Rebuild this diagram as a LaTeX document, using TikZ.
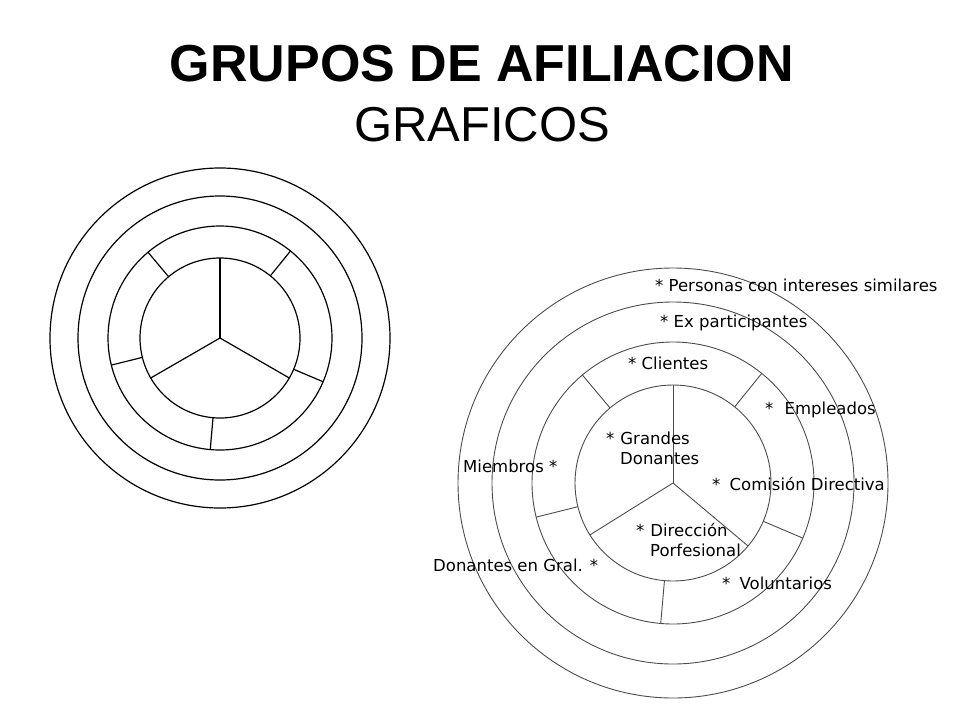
\documentclass[tikz,border=0pt]{standalone}
\usepackage{fontspec}
\setmainfont{Liberation Sans}
\newfontfamily\lblfont{DejaVu Sans}
\usetikzlibrary{positioning,calc}
\tikzset{ring/.style={draw,line width=1.2pt},
    thinring/.style={draw=black!70,line width=0.9pt},
    lbl/.style={font=\lblfont\fontsize{16.5}{20}\selectfont,inner sep=0pt,anchor=west,align=left}}
\begin{document}
\begin{tikzpicture}[x=1pt,y=-1pt]
\useasboundingbox (0,0) rectangle (960,720);
% title
\node[font=\bfseries\fontsize{52}{56}\selectfont] (title) at (482,64) {GRUPOS DE AFILIACION};
\node[font=\fontsize{49}{53}\selectfont] (sub) at (482,125) {GRAFICOS};
% left circles
\coordinate (lc) at (220,338);
\foreach \r in {170,142,112,80} \draw[ring] (lc) circle[radius=\r];
\foreach \a in {90,210,330} \draw[ring] (lc) -- ++(-\a:80);
\foreach \a in {130,51,194,337,265} \draw[ring] ($(lc)+(-\a:80)$) -- ($(lc)+(-\a:112)$);
% right circles
\coordinate (rc) at (673,483);
\foreach \r in {215,181,141,98} \draw[thinring] (rc) circle[radius=\r];
\foreach \a in {90,212,320} \draw[thinring] (rc) -- ++(-\a:98);
\foreach \a in {130,51,194,337,265} \draw[thinring] ($(rc)+(-\a:98)$) -- ($(rc)+(-\a:141)$);
% labels
\node[lbl] (pers) at (655,285) {* Personas con intereses similares};
\node[lbl] (expa) at (660,323) {* Ex participantes};
\node[lbl] (clie) at (628,363) {* Clientes};
\node[lbl] (empl) at (765,410) {*\hspace{6pt} Empleados};
\node[lbl] (gran) at (606,448) {*\hspace{6pt}Grandes\\\hspace{14pt}Donantes};
\node[lbl] (miem) at (463,466) {Miembros *};
\node[lbl] (comi) at (712,484) {*\hspace{4pt} Comisión Directiva};
\node[lbl] (dire) at (636,540) {*\hspace{6pt}Dirección\\\hspace{14pt}Porfesional};
\node[lbl] (dong) at (433,565) {Donantes en Gral. *};
\node[lbl] (volu) at (722,583) {*\hspace{4pt} Voluntarios};
\end{tikzpicture}
\end{document}
